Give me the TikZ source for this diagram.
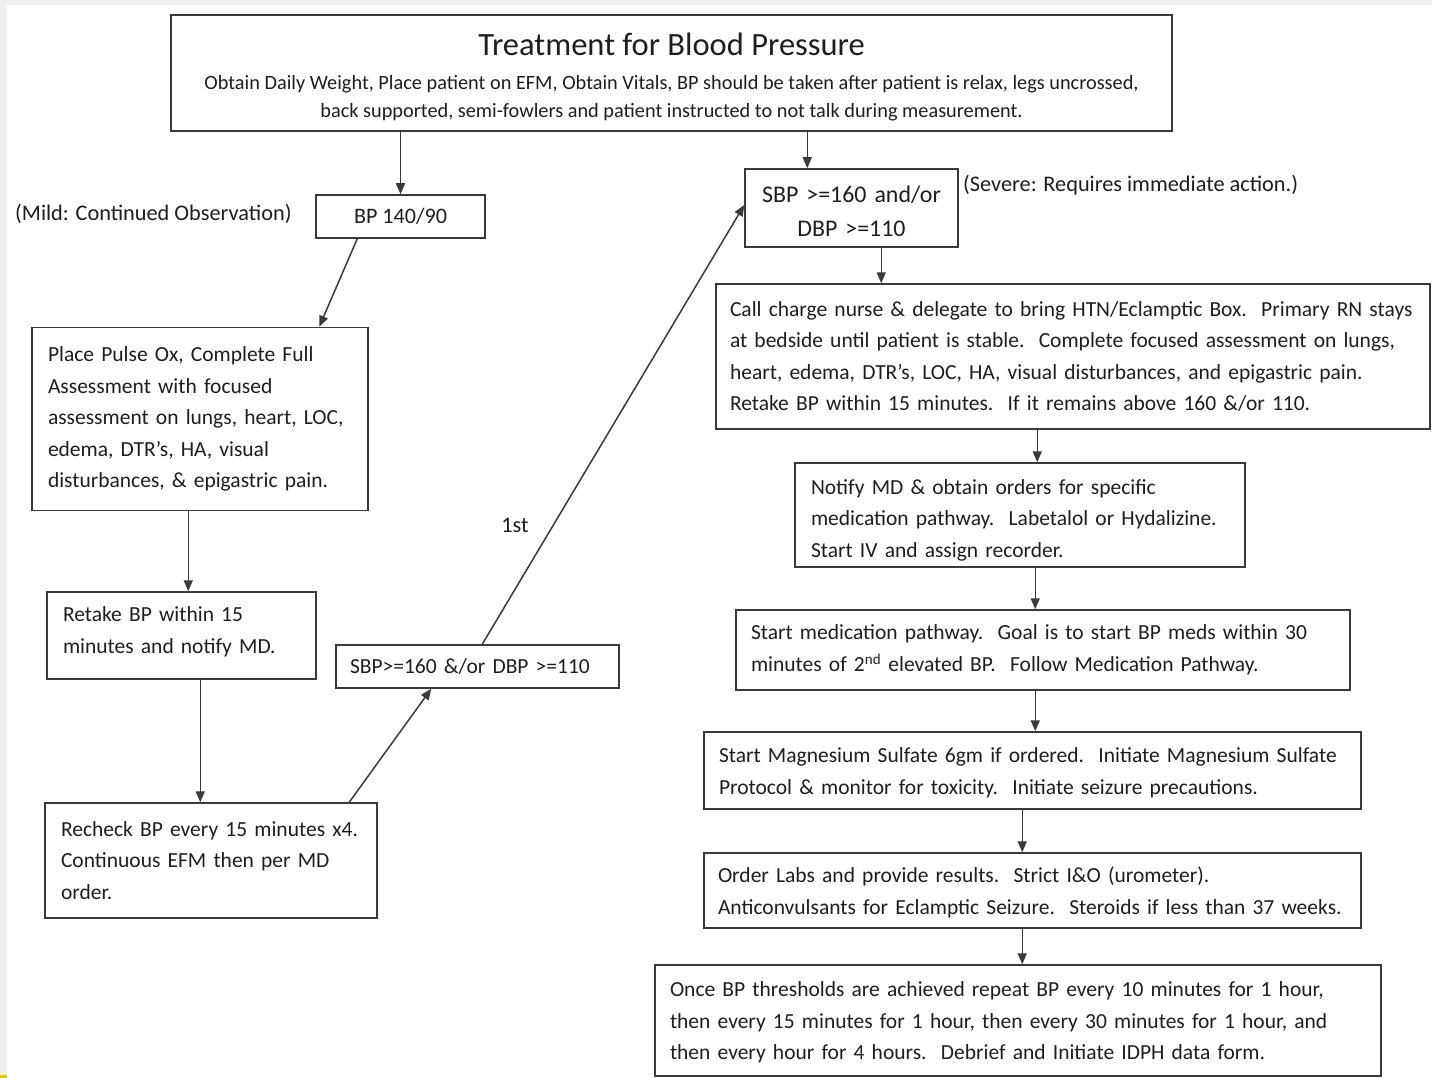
\documentclass[tikz,border=0pt]{standalone}
\usepackage{fontspec}
\setmainfont{Carlito}
\usetikzlibrary{arrows.meta}
\definecolor{linec}{HTML}{3A3A3A}
\definecolor{txtc}{HTML}{1E1E1E}
\definecolor{margin}{HTML}{F0F0F0}
\definecolor{markc}{HTML}{F5C400}
\begin{document}
\begin{tikzpicture}[x=1pt,y=-1pt,
  box/.style={draw=linec, line width=1.5pt, inner ysep=0pt, inner xsep=16pt,
    text=txtc, font=\fontsize{21.5}{31.6}\selectfont, align=left},
  size/.style 2 args={minimum width=#1, minimum height=#2},
  plain/.style={text=txtc, inner sep=0pt, font=\fontsize{22.3}{26}\selectfont},
  arr/.style={draw=linec, line width=1.5pt, -{Triangle[length=11pt,width=9pt]}}]

% page with its grey margin strip
\useasboundingbox (0,0) rectangle (1432,1078);
\fill[margin] (0,0) rectangle (1432,1078);
\fill[white] (7,5) rectangle (1432,1078);
\fill[markc] (0,1075) rectangle (7,1078);

% header box
\node[draw=linec, line width=1.5pt, size={1001}{116}] (top) at (671.5,73) {};
\node[plain, font=\fontsize{32.5}{36}\selectfont] (toptitle) at (671.5,44) {Treatment for Blood Pressure};
\node[plain, align=center, font=\fontsize{20.3}{28}\selectfont] (topsub) at (671.5,98)
  {Obtain Daily Weight, Place patient on EFM, Obtain Vitals, BP should be taken after patient is relax, legs uncrossed,\\
   back supported, semi-fowlers and patient instructed to not talk during measurement.};

% mild branch
\node[plain, anchor=west] (mild) at (15,214) {(Mild: Continued Observation)};
\node[box, size={169}{43}, align=center, inner xsep=4pt, font=\fontsize{22.1}{26}\selectfont] (bp) at (400.5,216.5) {BP 140/90};

\node[box, size={336}{183}, text width=304] (pulse) at (200,419) {Place Pulse Ox, Complete Full\\
Assessment with focused\\
assessment on lungs, heart, LOC,\\
edema, DTR’s, HA, visual\\
disturbances, \& epigastric pain.};

\node[box, size={269}{87}, text width=237] (retake) at (181.5,635.5) {Retake BP within 15\\
minutes and notify MD.\par\kern8pt};

\node[box, size={332}{115}, text width=300] (recheck) at (211,860.5) {Recheck BP every 15 minutes x4.\\
Continuous EFM then per MD\\
order.};

\node[box, size={283}{43}, text width=255, inner xsep=14pt] (smallsbp) at (477.5,666.5) {SBP>=160 \&/or DBP >=110};

% severe branch
\node[box, size={213}{78}, align=center, text width=207, inner xsep=3pt, font=\fontsize{23.9}{34}\selectfont] (bigsbp) at (851.5,208) {SBP >=160 and/or\\ DBP >=110\par\kern-6pt};
\node[plain, anchor=west] (severe) at (963,185) {(Severe: Requires immediate action.)};

\node[box, size={714}{145}, text width=686, inner xsep=14pt] (call) at (1073,356.5) {Call charge nurse \& delegate to bring HTN/Eclamptic Box.\ \ Primary RN stays\\
at bedside until patient is stable.\ \ Complete focused assessment on lungs,\\
heart, edema, DTR’s, LOC, HA, visual disturbances, and epigastric pain.\\
Retake BP within 15 minutes.\ \ If it remains above 160 \&/or 110.};

\node[box, size={450}{104}, text width=418] (notify) at (1020,515) {Notify MD \& obtain orders for specific\\
medication pathway.\ \ Labetalol or Hydalizine.\\
Start IV and assign recorder.\par\kern-10pt};

\node[box, size={614}{80}, text width=584, inner xsep=15pt] (startmed) at (1043,650) {Start medication pathway.\ \ Goal is to start BP meds within 30\\
minutes of 2\textsuperscript{nd} elevated BP.\ \ Follow Medication Pathway.};

\node[box, size={657}{77}, text width=627, inner xsep=15pt] (mg) at (1032.5,770.5) {Start Magnesium Sulfate 6gm if ordered.\ \ Initiate Magnesium Sulfate\\
Protocol \& monitor for toxicity.\ \ Initiate seizure precautions.\par\kern-4pt};

\node[box, size={657}{75}, text width=629, inner xsep=14pt] (labs) at (1032.5,890.5) {Order Labs and provide results.\ \ Strict I\&O (urometer).\\
Anticonvulsants for Eclamptic Seizure.\ \ Steroids if less than 37 weeks.\par\kern-4pt};

\node[box, size={726}{111}, text width=696, inner xsep=15pt] (once) at (1018,1020.5) {Once BP thresholds are achieved repeat BP every 10 minutes for 1 hour,\\
then every 15 minutes for 1 hour, then every 30 minutes for 1 hour, and\\
then every hour for 4 hours.\ \ Debrief and Initiate IDPH data form.\par\kern-4pt};

\node[plain] (first) at (515,525) {1st};

% connectors
\draw[arr] (top.south -| bp.north) -- (bp.north);
\coordinate (bigin) at ([xshift=63pt]bigsbp.north west);
\draw[arr] (top.south -| bigin) -- (bigin);
\draw[arr] ([xshift=42pt]bp.south west) -- ([xshift=288pt]pulse.north west);
\coordinate (pulseout) at ([xshift=157pt]pulse.south west);
\draw[arr] (pulseout) -- (pulseout |- retake.north);
\coordinate (retakeout) at ([xshift=154pt]retake.south west);
\draw[arr] (retakeout) -- (retakeout |- recheck.north);
\draw[arr] ([xshift=305pt]recheck.north west) -- ([xshift=96pt]smallsbp.south west);
\draw[arr] ([xshift=147pt]smallsbp.north west) -- ([yshift=3pt]bigsbp.west);
\coordinate (bigout) at ([xshift=137pt]bigsbp.south west);
\draw[arr] (bigout) -- (bigout |- call.north);
\coordinate (callout) at ([xshift=322pt]call.south west);
\draw[arr] (callout) -- (callout |- notify.north);
\coordinate (notifyout) at ([xshift=241pt]notify.south west);
\draw[arr] (notifyout) -- (notifyout |- startmed.north);
\coordinate (medout) at ([xshift=300pt]startmed.south west);
\draw[arr] (medout) -- (medout |- mg.north);
\coordinate (mgout) at ([xshift=319pt]mg.south west);
\draw[arr] (mgout) -- (mgout |- labs.north);
\coordinate (labsout) at ([xshift=319pt]labs.south west);
\draw[arr] (labsout) -- (labsout |- once.north);
\end{tikzpicture}
\end{document}
